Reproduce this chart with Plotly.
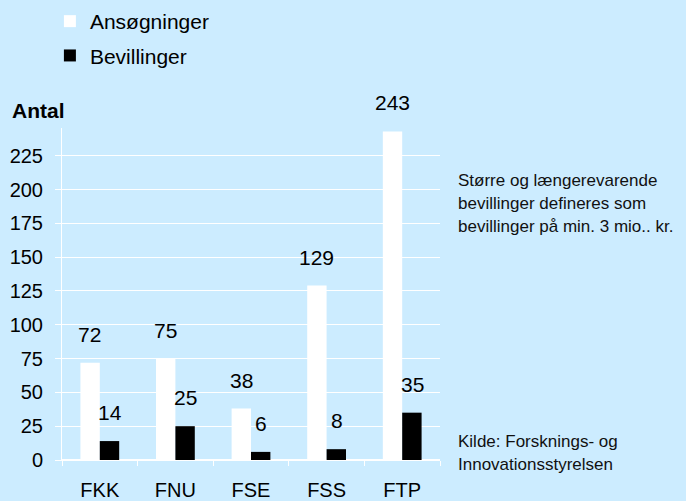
import plotly.graph_objects as go

categories = ["FKK", "FNU", "FSE", "FSS", "FTP"]
ansogninger = [72, 75, 38, 129, 243]
bevillinger = [14, 25, 6, 8, 35]
series_names = ["Ansøgninger", "Bevillinger"]
y_ticks = [0, 25, 50, 75, 100, 125, 150, 175, 200, 225]

BG = "#CCECFF"
FONT = "Liberation Sans, Arial, sans-serif"

fig = go.Figure()
fig.add_trace(go.Bar(x=categories, y=ansogninger, name=series_names[0],
                     marker=dict(color="white", line=dict(width=0)),
                     legendgroup="a"))
fig.add_trace(go.Bar(x=categories, y=bevillinger, name=series_names[1],
                     marker=dict(color="black", line=dict(width=0)),
                     legendgroup="b"))

annotations = []
for vals, shift in ((ansogninger, -10), (bevillinger, 10)):
    for c, v in zip(categories, vals):
        annotations.append(dict(x=c, y=v, xref="x", yref="y", text=str(v),
                                showarrow=False, xshift=shift, yshift=15,
                                yanchor="bottom", xanchor="center",
                                font=dict(size=21, color="black", family=FONT)))

H0, PH = 460, 332
def py(px):
    return (H0 - px) / PH

annotations.append(dict(x=-0.1376, y=py(110), xref="paper", yref="paper",
                        text="<b>Antal</b>", showarrow=False,
                        xanchor="left", yanchor="middle",
                        font=dict(size=21, color="black", family=FONT)))

note_lines = ["Større og længerevarende", "bevillinger defineres som",
              "bevillinger på min. 3 mio.. kr."]
for i, t in enumerate(note_lines):
    annotations.append(dict(x=1.042, y=py(180 + 23 * i), xref="paper", yref="paper",
                            text=t, showarrow=False, xanchor="left", yanchor="middle",
                            font=dict(size=17, color="#111111", family=FONT)))
source_lines = ["Kilde: Forsknings- og", "Innovationsstyrelsen"]
for i, t in enumerate(source_lines):
    annotations.append(dict(x=1.042, y=py(441 + 23 * i), xref="paper", yref="paper",
                            text=t, showarrow=False, xanchor="left", yanchor="middle",
                            font=dict(size=17, color="#111111", family=FONT)))

fig.update_layout(
    width=686, height=501,
    paper_bgcolor=BG, plot_bgcolor=BG,
    margin=dict(l=62, r=246, t=128, b=41, autoexpand=False),
    barmode="group", bargap=0.487, bargroupgap=0,
    font=dict(family=FONT, color="black", size=20),
    showlegend=True,
    legend=dict(x=-0.032, y=py(1), xanchor="left", yanchor="top",
                bgcolor="rgba(0,0,0,0)", font=dict(size=21),
                traceorder="grouped", tracegroupgap=4),
    annotations=annotations,
)
fig.update_xaxes(showline=True, linecolor="white", linewidth=1,
                 ticks="outside", tickson="boundaries", ticklen=5,
                 tickcolor="white", showgrid=False, automargin=False,
                 ticklabelstandoff=12, tickfont=dict(size=20))
fig.update_yaxes(range=[0, 245.5], tickvals=y_ticks, showline=True,
                 linecolor="white", linewidth=1, ticks="outside", ticklen=6,
                 tickcolor="white", showgrid=True, gridcolor="white",
                 gridwidth=1, zeroline=True, zerolinecolor="white",
                 automargin=False, ticklabelstandoff=8,
                 tickfont=dict(size=20))

fig.write_html("out.html", config={"displayModeBar": False},
               post_script="document.body.style.margin='0';document.body.style.padding='0';")
